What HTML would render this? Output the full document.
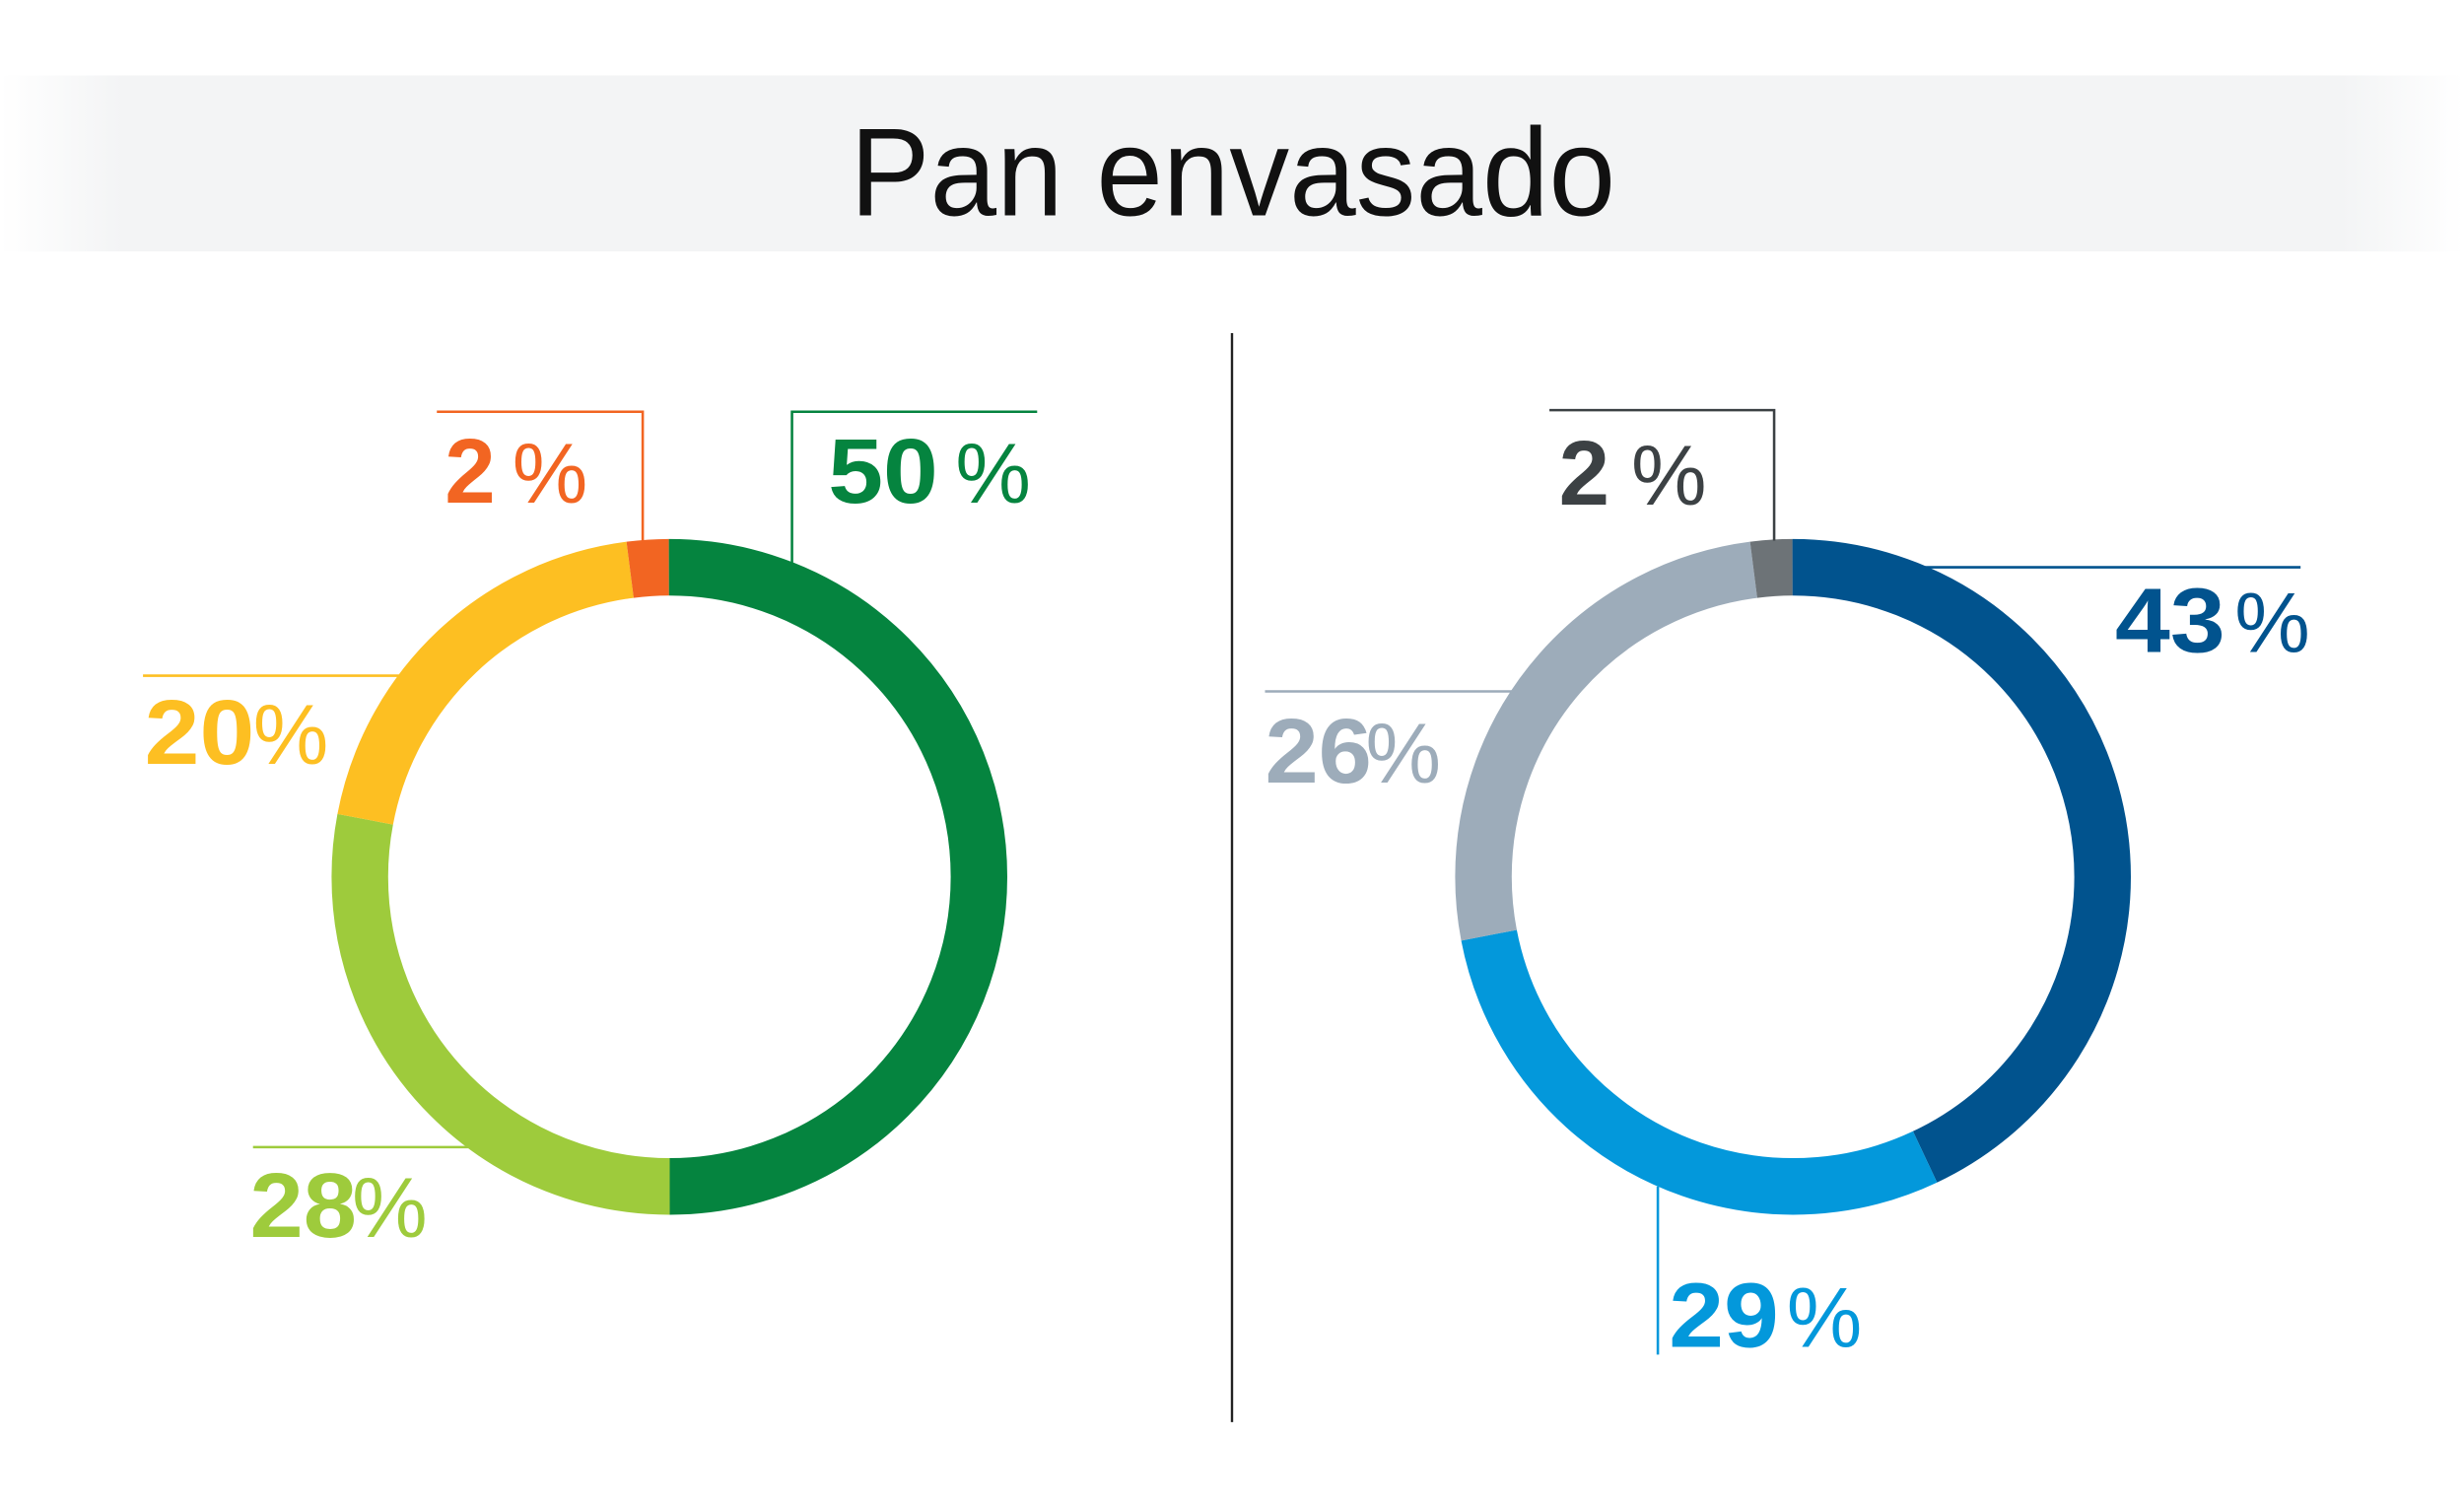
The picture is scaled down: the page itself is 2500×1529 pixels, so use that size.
<!DOCTYPE html>
<html><head><meta charset="utf-8"><style>
html,body{margin:0;padding:0;background:#fff;}
svg{display:block;}
text{font-family:"Liberation Sans","DejaVu Sans",sans-serif;}
.n{font-weight:bold;font-size:58px;}
.p{font-weight:normal;font-size:54px;}
</style></head><body>
<svg width="2500" height="1529" viewBox="0 0 1568 959" preserveAspectRatio="none" xmlns="http://www.w3.org/2000/svg">
<defs>
<linearGradient id="hb" x1="0" x2="1" y1="0" y2="0">
<stop offset="0" stop-color="#f3f4f5" stop-opacity="0"/>
<stop offset="0.05" stop-color="#f3f4f5"/>
<stop offset="0.95" stop-color="#f3f4f5"/>
<stop offset="1" stop-color="#f3f4f5" stop-opacity="0"/>
</linearGradient>
</defs>
<rect x="0" y="48" width="1568" height="112" fill="url(#hb)"/>
<text x="541" y="137" textLength="487" lengthAdjust="spacingAndGlyphs" font-size="80" fill="#111">Pan envasado</text>
<line x1="784" y1="212" x2="784" y2="905" stroke="#222" stroke-width="1.5"/>

<g transform="rotate(-90 426 558)" fill="none" stroke-width="36">
<circle cx="426" cy="558" r="197" pathLength="100" stroke="#05843f" stroke-dasharray="50 50" stroke-dashoffset="0"/>
<circle cx="426" cy="558" r="197" pathLength="100" stroke="#9ecb3c" stroke-dasharray="28 72" stroke-dashoffset="-50"/>
<circle cx="426" cy="558" r="197" pathLength="100" stroke="#fdbf22" stroke-dasharray="20 80" stroke-dashoffset="-78"/>
<circle cx="426" cy="558" r="197" pathLength="100" stroke="#f26522" stroke-dasharray="2 98" stroke-dashoffset="-98"/>
</g>
<g transform="rotate(-90 1141 558)" fill="none" stroke-width="36">
<circle cx="1141" cy="558" r="197" pathLength="100" stroke="#01538e" stroke-dasharray="43 57" stroke-dashoffset="0"/>
<circle cx="1141" cy="558" r="197" pathLength="100" stroke="#0398db" stroke-dasharray="29 71" stroke-dashoffset="-43"/>
<circle cx="1141" cy="558" r="197" pathLength="100" stroke="#9dacba" stroke-dasharray="26 74" stroke-dashoffset="-72"/>
<circle cx="1141" cy="558" r="197" pathLength="100" stroke="#6d7377" stroke-dasharray="2 98" stroke-dashoffset="-98"/>
</g>

<g fill="none" stroke-width="1.6">
<polyline points="278,262 409,262 409,344" stroke="#f26522"/>
<polyline points="660,262 504,262 504,358" stroke="#05843f"/>
<line x1="91" y1="430" x2="255" y2="430" stroke="#fdbf22"/>
<line x1="161" y1="730" x2="298" y2="730" stroke="#9ecb3c"/>
<polyline points="986,261 1129,261 1129,344" stroke="#3c4144"/>
<line x1="1222" y1="361" x2="1464" y2="361" stroke="#01538e"/>
<line x1="805" y1="440" x2="962" y2="440" stroke="#9dacba"/>
<line x1="1055" y1="755" x2="1055" y2="862" stroke="#0398db"/>
</g>

<text x="283" y="320" class="n" fill="#f26522">2</text><text x="326" y="320" class="p" fill="#f26522">%</text>
<text x="527" y="320" class="n" fill="#05843f" textLength="70" lengthAdjust="spacingAndGlyphs">50</text><text x="608" y="320" class="p" fill="#05843f">%</text>
<text x="92" y="486" class="n" fill="#fdbf22" textLength="70" lengthAdjust="spacingAndGlyphs">20</text><text x="161" y="486" class="p" fill="#fdbf22">%</text>
<text x="159" y="787" class="n" fill="#9ecb3c" textLength="68" lengthAdjust="spacingAndGlyphs">28</text><text x="224" y="787" class="p" fill="#9ecb3c">%</text>
<text x="992" y="321" class="n" fill="#3c4144">2</text><text x="1038" y="321" class="p" fill="#3c4144">%</text>
<text x="1346" y="415" class="n" fill="#01538e" textLength="70" lengthAdjust="spacingAndGlyphs">43</text><text x="1422" y="415" class="p" fill="#01538e">%</text>
<text x="805" y="498" class="n" fill="#9dacba" textLength="68" lengthAdjust="spacingAndGlyphs">26</text><text x="869" y="498" class="p" fill="#9dacba">%</text>
<text x="1062" y="857" class="n" fill="#0398db" textLength="70" lengthAdjust="spacingAndGlyphs">29</text><text x="1137" y="857" class="p" fill="#0398db">%</text>
</svg>
</body></html>
